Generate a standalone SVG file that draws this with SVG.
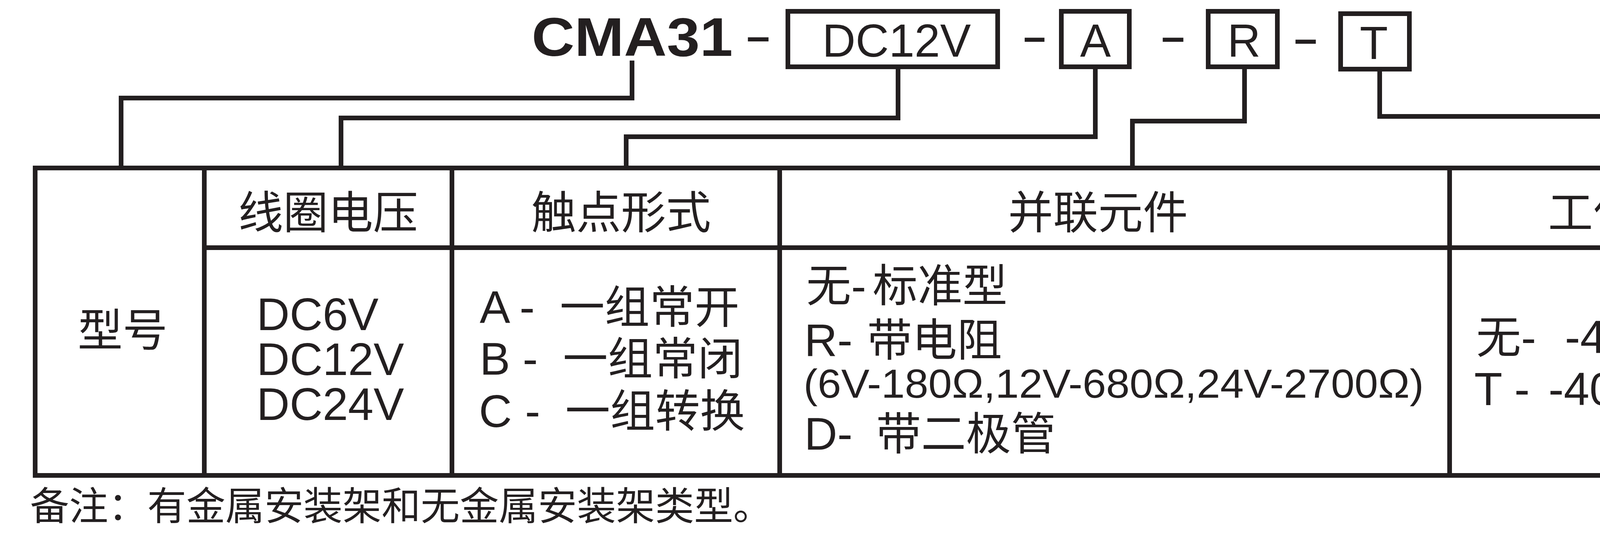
<svg xmlns="http://www.w3.org/2000/svg" width="4933" height="1390" viewBox="0 0 4933 1390">
<style>
.ln{fill:none;stroke:#231f20;stroke-width:12;stroke-linecap:butt;stroke-linejoin:miter}
text{font-family:"Liberation Sans","Noto Sans CJK SC",sans-serif;fill:#231f20}
.hd{font-size:115px;text-anchor:middle}
.cj{font-size:115px}
.la{font-size:117px}
.tp{font-size:118px}
.dash{font-size:136px}
</style>
<rect width="4933" height="1390" fill="#ffffff"/>

<g id="code-line">
  <g id="node-CMA31"><text x="1361" y="143" font-size="140" font-weight="bold" textLength="515" lengthAdjust="spacingAndGlyphs">CMA31</text></g>
  <g id="separators">
    <text class="dash" x="1905" y="137" textLength="72" lengthAdjust="spacingAndGlyphs">-</text>
    <text class="dash" x="2614" y="138" textLength="69" lengthAdjust="spacingAndGlyphs">-</text>
    <text class="dash" x="2967" y="138" textLength="72" lengthAdjust="spacingAndGlyphs">-</text>
    <text class="dash" x="3307" y="143" textLength="71" lengthAdjust="spacingAndGlyphs">-</text>
  </g>
  <g id="node-DC12V"><rect class="ln" x="2017" y="29" width="537" height="142"/><text class="tp" x="2105" y="145">DC12V</text></g>
  <g id="node-A"><rect class="ln" x="2717" y="29" width="174" height="142"/><text class="tp" x="2765" y="145">A</text></g>
  <g id="node-R"><rect class="ln" x="3093" y="29" width="177" height="142"/><text class="tp" x="3142" y="145">R</text></g>
  <g id="node-T"><rect class="ln" x="3432" y="35" width="176" height="142"/><text class="tp" x="3481" y="151">T</text></g>
</g>

<g id="connectors">
  <path class="ln" d="M1618,155 V251 H310 V430"/>
  <path class="ln" d="M2299,177 V302 H873 V430"/>
  <path class="ln" d="M2804,177 V350 H1603 V430"/>
  <path class="ln" d="M3186,177 V310 H2899 V430"/>
  <path class="ln" d="M3532,183 V298 H4333 V430"/>
</g>

<g id="table">
  <rect class="ln" x="90" y="430" width="4807" height="787"/>
  <path class="ln" d="M523,430 V1217 M1157,430 V1217 M1996,430 V1217 M3711,430 V1217 M523,634 H4897"/>
</g>

<g id="cell-model"><text class="cj" x="314" y="886" text-anchor="middle">型号</text></g>
<g id="cell-coil-voltage">
  <text class="hd" x="840" y="585">线圈电压</text>
  <text class="la" x="657" y="845">DC6V</text>
  <text class="la" x="657" y="960">DC12V</text>
  <text class="la" x="657" y="1075">DC24V</text>
</g>
<g id="cell-contact">
  <text class="hd" x="1590" y="585">触点形式</text>
  <text class="la" y="827"><tspan x="1228">A </tspan><tspan x="1330">- </tspan><tspan class="cj" x="1433">一组常开</tspan></text>
  <text class="la" y="959"><tspan x="1228">B </tspan><tspan x="1338">- </tspan><tspan class="cj" x="1441">一组常闭</tspan></text>
  <text class="la" y="1093"><tspan x="1226">C </tspan><tspan x="1344">- </tspan><tspan class="cj" x="1447">一组转换</tspan></text>
</g>
<g id="cell-parallel">
  <text class="hd" x="2811" y="585">并联元件</text>
  <text class="cj" y="772"><tspan x="2064">无-</tspan><tspan x="2234">标准型</tspan></text>
  <text class="la" y="911"><tspan x="2059">R- </tspan><tspan class="cj" x="2220">带电阻</tspan></text>
  <text x="2057" y="1018" font-size="104" textLength="1588" lengthAdjust="spacingAndGlyphs">(6V-180Ω,12V-680Ω,24V-2700Ω)</text>
  <text class="la" y="1151"><tspan x="2059">D- </tspan><tspan class="cj" x="2243">带二极管</tspan></text>
</g>
<g id="cell-temperature">
  <text class="hd" x="4308" y="585">工作环境温度</text>
  <text class="tp" y="904"><tspan class="cj" x="3779">无- </tspan><tspan x="4006">-40℃ </tspan><tspan x="4351">to </tspan><tspan x="4480">+85℃</tspan></text>
  <text class="tp" y="1037"><tspan x="3774">T - </tspan><tspan x="3964">-40℃ </tspan><tspan x="4307">to </tspan><tspan x="4437">+125℃</tspan></text>
</g>

<g id="note"><text x="77" y="1331" font-size="100">备注：有金属安装架和无金属安装架类型。</text></g>
</svg>
